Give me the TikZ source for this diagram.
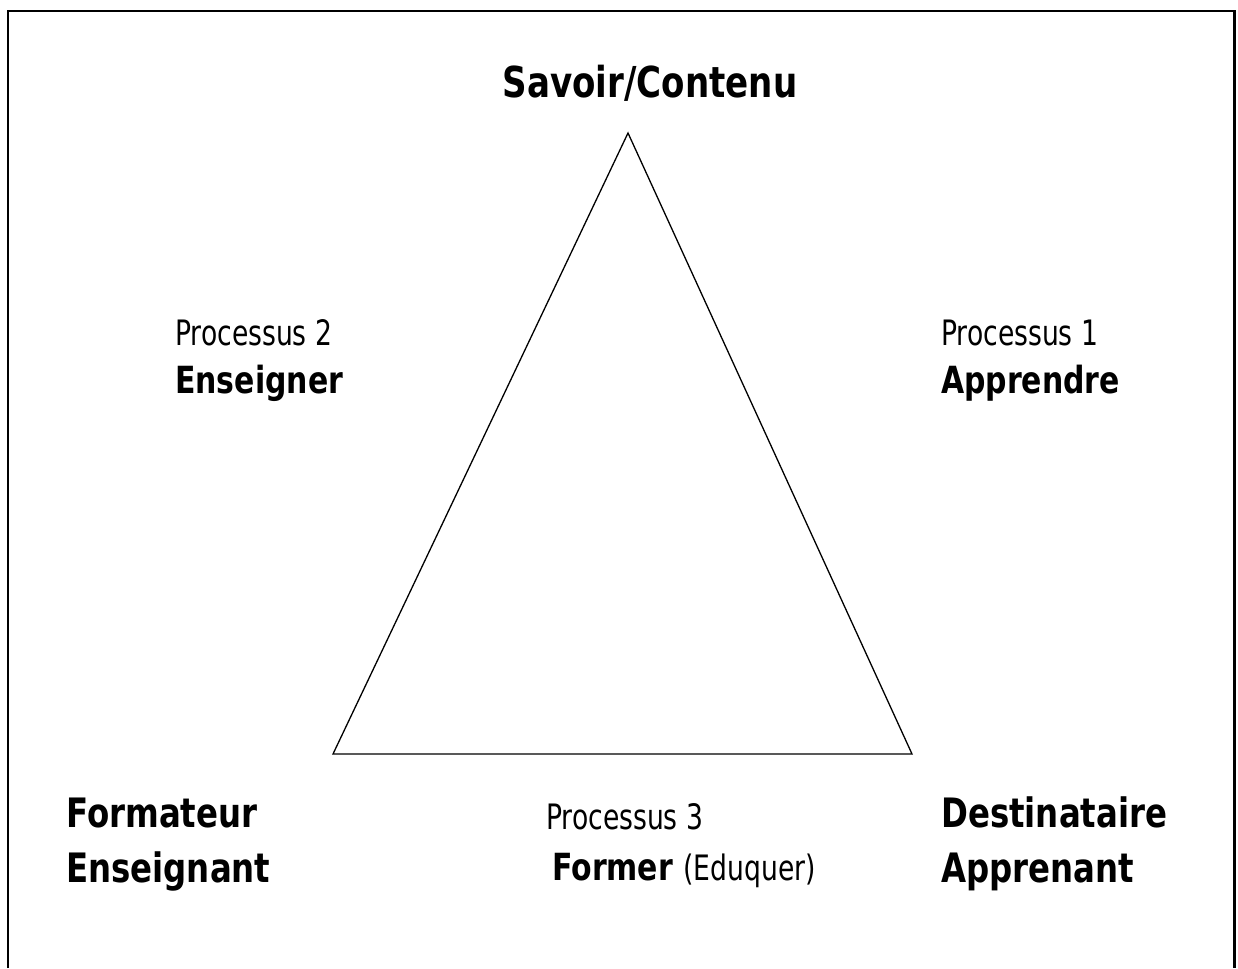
\documentclass[tikz,border=0pt]{standalone}
\usepackage{fontspec}
\newfontfamily\regfont[FakeStretch=0.76]{DejaVu Sans}
\newfontfamily\boldfont[FakeStretch=0.8]{DejaVu Sans Bold}
\begin{document}
\begin{tikzpicture}[x=1pt,y=-1pt,
  frameline/.style={line width=2.5pt,black},
  triline/.style={line width=1.3pt,black,line join=miter},
  titlelbl/.style={inner sep=0pt,font=\boldfont\fontsize{42.6}{50}\selectfont},
  cornerlbl/.style={inner sep=0pt,anchor=base west,font=\boldfont\fontsize{40.5}{48}\selectfont},
  proclbl/.style={inner sep=0pt,anchor=base west,font=\regfont\fontsize{35}{42}\selectfont},
  actlbl/.style={inner sep=0pt,anchor=base west,font=\boldfont\fontsize{37.4}{44}\selectfont}]
  % page area
  \useasboundingbox (0,0) rectangle (1238,968);
  \fill[white] (0,0) rectangle (1238,968);
  % open frame (no bottom edge)
  \coordinate (fbl) at (8,968);
  \coordinate (ftl) at (8,11);
  \coordinate (ftr) at (1234.5,11);
  \coordinate (fbr) at (1234.5,968);
  \draw[frameline] (fbl) -- (ftl) -- (ftr) -- (fbr);
  % the didactic triangle
  \coordinate (apex) at (628,133);
  \coordinate (left) at (333,754);
  \coordinate (right) at (912,754);
  \draw[triline] (apex) -- (left) -- (right) -- cycle;
  % vertex labels
  \node[titlelbl,anchor=base] (savoir) at (650,98) {Savoir/Contenu};
  \node[cornerlbl] (formateur) at (66,827) {Formateur};
  \node[cornerlbl] (enseignant) at (66,882) {Enseignant};
  \node[cornerlbl] (destinataire) at (941,827) {Destinataire};
  \node[cornerlbl] (apprenant) at (941,882) {Apprenant};
  % process labels
  \node[proclbl] (p2) at (175,345) {Processus 2};
  \node[actlbl] (enseigner) at (175,393) {Enseigner};
  \node[proclbl] (p1) at (941,345) {Processus 1};
  \node[actlbl] (apprendre) at (941,393) {Apprendre};
  \node[proclbl] (p3) at (546,829) {Processus 3};
  \node[actlbl] (former) at (552,880) {Former \regfont\fontsize{35}{42}\selectfont(Eduquer)};
\end{tikzpicture}
\end{document}
